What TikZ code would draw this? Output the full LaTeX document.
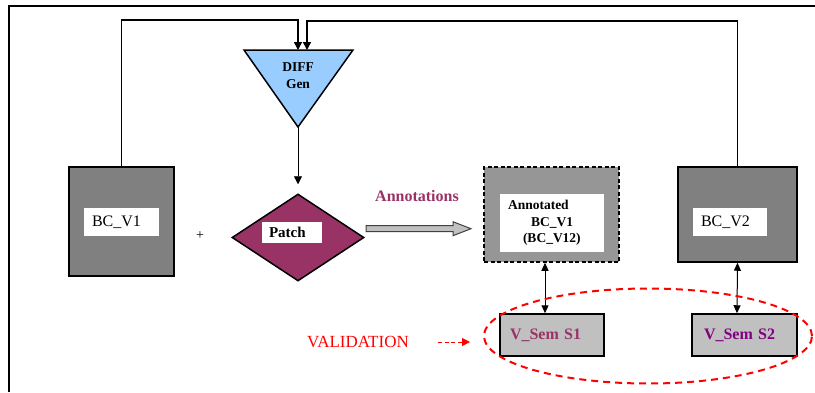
\documentclass[tikz,border=0pt]{standalone}
\usepackage{fontspec}
\setmainfont{Liberation Serif}
\usetikzlibrary{shapes.geometric,arrows.meta,positioning}
\definecolor{boxgray}{RGB}{128,128,128}
\definecolor{anngray}{RGB}{150,150,150}
\definecolor{semgray}{RGB}{192,192,192}
\definecolor{diffblue}{RGB}{153,204,255}
\definecolor{patchred}{RGB}{153,51,102}
\definecolor{sempurple}{RGB}{128,0,128}
\tikzstyle{version}=[draw,fill=boxgray,rectangle,line width=1.5pt,inner sep=0pt]
\tikzstyle{namebox}=[fill=white,rectangle,inner ysep=0pt,inner xsep=8pt,align=left,font=\fontsize{16}{19}\selectfont]
\tikzstyle{sem}=[draw,fill=semgray,rectangle,line width=1.5pt,minimum height=42pt,inner ysep=0pt,align=left,font=\bfseries\fontsize{16}{19}\selectfont]
\tikzstyle{feed}=[line width=1.5pt,-{Triangle[length=8pt,width=8pt]}]
\tikzstyle{link}=[line width=1pt,{Triangle[length=8pt,width=7pt]}-{Triangle[length=8pt,width=7pt]}]

\begin{document}
\begin{tikzpicture}[x=1pt,y=-1pt]
\useasboundingbox (0,0) rectangle (815,392);
\draw[line width=1.5pt] (9,392) -- (9,6) -- (815,6);
% versions
\draw (121.5,221.5) node [version,minimum width=105pt,minimum height=109pt] (v1) {};
\draw (121.5,222) node [namebox,text width=59pt,minimum height=28pt] (v1name) {BC\_V1};
\draw (737.5,214.5) node [version,minimum width=119pt,minimum height=95pt] (v2) {};
\draw (730,222) node [namebox,text width=58pt,minimum height=28pt] (v2name) {BC\_V2};
% diff generator
\draw[fill=diffblue,line width=1.5pt] (244,50) -- (353,50) -- (298,127) -- cycle;
\coordinate (diffin1) at (298,50);
\coordinate (diffin2) at (307,50);
\coordinate (diffout) at (298,127);
\draw (298,75.5) node [font=\bfseries\fontsize{13.5}{17}\selectfont,align=center] (diff) {DIFF\\Gen};
% patch
\draw (298,237.5) node [diamond,draw,fill=patchred,line width=1.5pt,minimum width=132pt,minimum height=87pt,inner sep=0pt] (patch) {};
\draw (292,232.5) node [namebox,text width=46pt,inner xsep=7pt,minimum height=21pt,font=\bfseries\fontsize{15}{18}\selectfont] (patchname) {Patch};
\draw (200,236) node [font=\fontsize{14}{16}\selectfont] (plus) {+};
\draw (417,196) node [text=patchred,font=\bfseries\fontsize{16}{19}\selectfont] (annot) {Annotations};
\draw[draw=darkgray,fill=semgray,line width=1pt] (366,225.7) -- (453,225.7) -- (453,221.7) -- (471,228.7) -- (453,235.7) -- (453,231.7) -- (366,231.7) -- cycle;
% annotated version
\draw (551.5,214.5) node [version,fill=anngray,dash pattern=on 4pt off 2.5pt,minimum width=135pt,minimum height=95pt] (ann) {};
\draw (552,223) node [namebox,text width=88pt,minimum height=58pt,font=\bfseries\fontsize{13.5}{16.5}\selectfont] (annname) {Annotated\\\hspace*{23pt}BC\_V1\\\hspace*{15pt}(BC\_V12)};
% semantics
\draw (552,335) node [sem,minimum width=104pt,text width=84pt,inner xsep=10pt,text=patchred] (s1) {V\_Sem S1};
\draw (744.5,335) node [sem,minimum width=105pt,text width=81pt,inner xsep=12pt,text=sempurple] (s2) {V\_Sem S2};
% connectors
\draw[feed] (v1.north) |- (298,20) -- (diffin1);
\draw[feed] (v2.north) |- (307,21) -- (diffin2);
\draw[line width=0.8pt,-{Triangle[length=8pt,width=8pt]},shorten >=9pt] (diffout) -- (patch.north);
\draw[link] ([xshift=-6.5pt]ann.south) -- ([xshift=-7pt]s1.north);
\draw[link] (v2.south) -- ([xshift=-7.5pt]s2.north);
% validation
\draw (358,342) node [text=red,font=\fontsize{17}{20}\selectfont,inner sep=2pt] (val) {VALIDATION};
\draw (648,336) node [ellipse,draw=red,line width=2pt,dash pattern=on 7pt off 5pt,minimum width=328pt,minimum height=95pt,inner sep=0pt] (valid) {};
\draw[red,line width=1pt,dash pattern=on 4pt off 2.5pt,-{Triangle[length=8pt,width=8pt]},shorten <=27pt,shorten >=13pt] (val.east) -- (val.east -| valid.west);
\end{tikzpicture}
\end{document}
